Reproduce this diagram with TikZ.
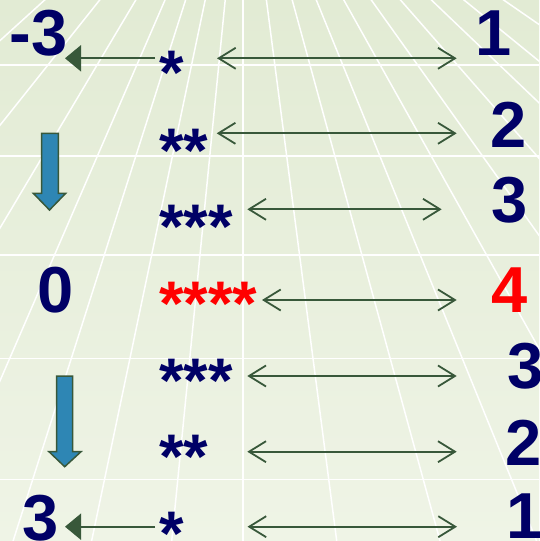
\documentclass[tikz,border=0pt]{standalone}
\usepackage{fontspec}
\setmainfont{Liberation Sans}
\usetikzlibrary{arrows.meta}
\definecolor{navy}{RGB}{0,0,102}
\definecolor{agreen}{RGB}{56,88,58}
\definecolor{ablue}{RGB}{46,134,180}
\definecolor{bgtop}{RGB}{226,235,212}
\definecolor{bgbot}{RGB}{239,244,230}
\begin{document}
\begin{tikzpicture}[x=1pt,y=-1pt,
  num/.style={font=\bfseries\fontsize{65}{70}\selectfont, text=navy, inner sep=0pt, outer sep=0pt, anchor=base},
  stars/.style={font=\bfseries\fontsize{63}{70}\selectfont, text=navy, inner sep=0pt, outer sep=0pt, anchor=base west},
  dbl/.style={agreen, line width=1.8pt, {Straight Barb[length=17pt,width=21pt]}-{Straight Barb[length=17pt,width=21pt]}},
  lft/.style={agreen, line width=2pt, -{Triangle[length=16pt,width=26pt]}},
  blockarrow/.style={fill=ablue, draw=agreen, line width=1.5pt, line join=miter},
  gridline/.style={white, line width=1.5pt}]

\useasboundingbox (0,0) rectangle (539,541);
\begin{scope}
\clip (0,0) rectangle (539,541);
\shade[top color=bgtop, bottom color=bgbot] (0,0) rectangle (539,541);
\foreach \x in {44.7,99.7,135.8,165,185.6,205.2,225.2,243,266.4,292.2,316.3,343.8,371.3,400.5,431.4,464,503.6}
  \draw[gridline] (243,-180) -- ({243+(\x-243)*4.5},630);
\foreach \y in {65,156,255,358.5,479.5}
  \draw[gridline] (0,\y) -- (539,\y);
\end{scope}

% left numbers
\node[num, anchor=base west] (m3) at (9.4,55) {-3};
\node[num] (zero) at (56,312) {0};
\node[num] (p3) at (41,540) {3};

% right numbers
\node[num] (r1) at (494,55) {1};
\node[num] (r2) at (509,147) {2};
\node[num] (r3) at (510,222) {3};
\node[num, text=red] (r4) at (510,312) {4};
\node[num] (r5) at (526,388) {3};
\node[num] (r6) at (524,465) {2};
\node[num] (r7) at (525,538.5) {1};

% stars
\node[stars] (s1) at (159,94) {*};
\node[stars] (s2) at (159,172) {**};
\node[stars] (s3) at (159,248) {***};
\node[stars, text=red] (s4) at (159,325) {****};
\node[stars] (s5) at (159,402) {***};
\node[stars] (s6) at (159,478) {**};
\node[stars] (s7) at (159,555) {*};

% double arrow endpoints
\coordinate (a1l) at (217,58.3);   \coordinate (a1r) at (456.7,58.3);
\coordinate (a2l) at (216.7,133.3); \coordinate (a2r) at (456.7,133.3);
\coordinate (a3l) at (247.3,209.3); \coordinate (a3r) at (441.7,209.3);
\coordinate (a4l) at (262,300);     \coordinate (a4r) at (456.7,300);
\coordinate (a5l) at (247.3,376);   \coordinate (a5r) at (456.7,376);
\coordinate (a6l) at (247.3,451.7); \coordinate (a6r) at (456.7,451.7);
\coordinate (a7l) at (247.5,526.7); \coordinate (a7r) at (457,526.7);
\foreach \i in {1,...,7} \draw[dbl] (a\i l) -- (a\i r);

% left arrows
\coordinate (t1s) at (155,58.3);  \coordinate (t1e) at (65,58.3);
\coordinate (t7s) at (155,526.7); \coordinate (t7e) at (65,526.7);
\draw[lft] (t1s) -- (t1e);
\draw[lft] (t7s) -- (t7e);

% blue block arrows
\draw[blockarrow] (41.7,133.3) -- (58.3,133.3) -- (58.3,193.3) -- (65.7,193.3) -- (49.5,210) -- (33.3,193.3) -- (41.7,193.3) -- cycle;
\draw[blockarrow] (56.7,376) -- (72.7,376) -- (72.7,451.7) -- (81,451.7) -- (64.7,466.7) -- (49,451.7) -- (56.7,451.7) -- cycle;
\end{tikzpicture}
\end{document}
